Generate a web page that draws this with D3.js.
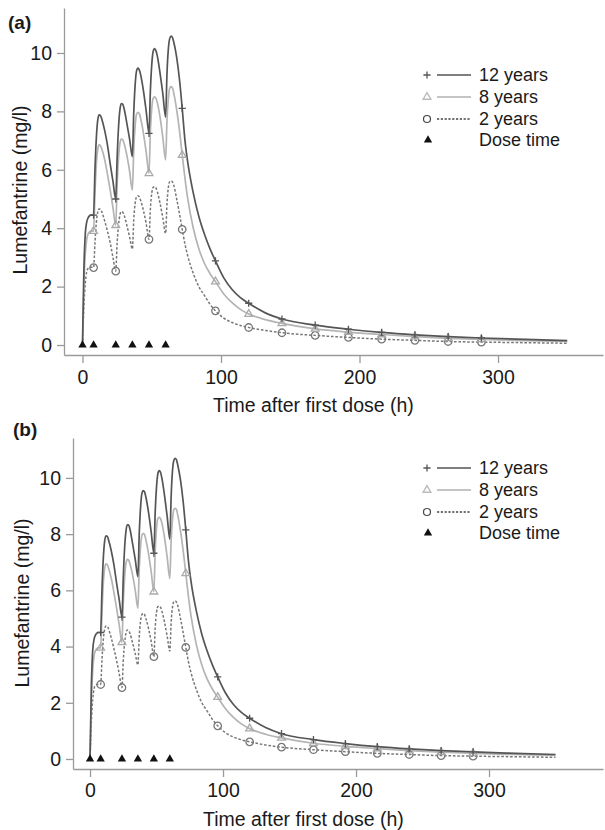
<!DOCTYPE html>
<html><head><meta charset="utf-8">
<script src="https://cdn.jsdelivr.net/npm/d3@7"></script>
<style>body{margin:0;background:#fff} svg{display:block;font-family:"Liberation Sans",Arial,Helvetica,sans-serif}</style>
</head><body><svg id="c" width="605" height="830"></svg>
<script>
// ---------- DATA ----------
const times = [0,1,2,3,4,5,6,7,8,9,10,11,12,13,14,16,18,20,22,24,25,26,27,28,29,30,32,34,36,37,38,39,40,41,42,44,46,48,49,50,51,52,53,54,56,58,60,61,62,63,64,65,66,68,70,72,74,76,80,84,88,92,96,102,108,114,120,132,144,168,192,216,240,264,288,320,350];

// Panel (a)
const a12 = [0,2.6,3.8,4.2,4.35,4.42,4.45,4.45,4.45,6.0,7.1,7.7,7.88,7.85,7.72, 7.35,6.85,6.2,5.6,5.0, 6.4,7.45,8.05,8.27,8.25,8.1, 7.6,7.05,6.45, 7.95,8.9,9.38,9.48,9.42,9.25, 8.7,8.0,7.25, 8.7,9.6,10.05,10.15,10.08,9.9, 9.3,8.6,7.8, 9.3,10.15,10.5,10.58,10.52,10.35, 9.85,9.1,8.1, 7.0,6.25,5.2,4.4,3.8,3.3,2.88, 2.3,1.9,1.62,1.43, 1.1,0.89, 0.68,0.54,0.43,0.35,0.29,0.24, 0.19,0.15];
const a8  = [0,2.0,3.1,3.6,3.8,3.87,3.9,3.9,3.9,5.2,6.2,6.7,6.85,6.82,6.7, 6.35,5.85,5.3,4.7,4.1, 5.5,6.4,6.9,7.05,7.03,6.9, 6.5,5.95,5.3, 6.7,7.5,7.9,7.97,7.92,7.75, 7.25,6.6,5.88, 7.3,8.1,8.45,8.5,8.45,8.3, 7.8,7.1,6.34, 7.7,8.45,8.8,8.85,8.8,8.6, 8.05,7.35,6.5, 5.7,5.0,4.0,3.3,2.8,2.45,2.17, 1.75,1.45,1.22,1.06, 0.87,0.74, 0.55,0.44,0.36,0.29,0.23,0.19, 0.15,0.12];
const a2  = [0,1.3,2.1,2.5,2.62,2.65,2.66,2.66,2.65,3.5,4.2,4.55,4.66,4.65,4.55, 4.25,3.9,3.5,3.0,2.53, 3.5,4.1,4.45,4.57,4.55,4.45, 4.1,3.7,3.29, 4.3,4.85,5.07,5.11,5.07,4.95, 4.6,4.15,3.62, 4.65,5.2,5.4,5.42,5.38,5.25, 4.85,4.35,3.82, 4.85,5.4,5.6,5.62,5.58,5.45, 5.0,4.5,3.96, 3.45,3.05,2.45,2.0,1.7,1.4,1.17, 0.92,0.77,0.67,0.6, 0.5,0.42, 0.33,0.26,0.2,0.16,0.12,0.1, 0.08,0.06];

// Panel (b)
const b12 = [0,2.6,3.85,4.25,4.4,4.47,4.5,4.5,4.5,6.05,7.15,7.75,7.94,7.92,7.78, 7.4,6.9,6.25,5.65,5.05, 6.45,7.5,8.1,8.33,8.33,8.18, 7.66,7.1,6.49, 8.0,8.95,9.45,9.55,9.5,9.32, 8.77,8.07,7.32, 8.78,9.68,10.15,10.26,10.2,10.0, 9.38,8.63,7.82, 9.35,10.25,10.62,10.7,10.64,10.45, 9.93,9.17,8.15, 7.05,6.3,5.25,4.45,3.85,3.35,2.92, 2.34,1.93,1.65,1.45, 1.12,0.9, 0.69,0.55,0.44,0.36,0.3,0.25, 0.2,0.16];
const b8  = [0,2.0,3.15,3.65,3.85,3.92,3.95,3.95,3.95,5.25,6.27,6.78,6.94,6.91,6.78, 6.42,5.92,5.36,4.75,4.15, 5.55,6.45,6.95,7.1,7.08,6.95, 6.55,6.0,5.36, 6.76,7.56,7.96,8.03,7.98,7.8, 7.3,6.66,5.95, 7.38,8.2,8.55,8.6,8.55,8.4, 7.88,7.18,6.42, 7.78,8.52,8.87,8.92,8.87,8.67, 8.12,7.43,6.6, 5.78,5.07,4.06,3.35,2.85,2.49,2.2, 1.78,1.47,1.24,1.08, 0.88,0.75, 0.56,0.45,0.37,0.3,0.24,0.2, 0.16,0.13];
const b2  = [0,1.3,2.1,2.5,2.62,2.65,2.66,2.66,2.65,3.55,4.25,4.62,4.73,4.72,4.62, 4.3,3.92,3.5,3.02,2.54, 3.5,4.12,4.47,4.59,4.57,4.47, 4.13,3.75,3.35, 4.35,4.9,5.14,5.18,5.14,5.0, 4.64,4.18,3.64, 4.67,5.22,5.42,5.44,5.4,5.27, 4.87,4.37,3.84, 4.86,5.4,5.6,5.62,5.58,5.45, 5.0,4.5,3.97, 3.46,3.06,2.46,2.01,1.71,1.41,1.18, 0.93,0.78,0.68,0.61, 0.5,0.42, 0.33,0.26,0.2,0.16,0.12,0.1, 0.08,0.06];

const markerTimes = [8,24,48,72,96,120,144,168,192,216,240,264,288];
const doseTimes = [0,8,24,36,48,60];
const xTicks = [0,100,200,300];
const yTicks = [0,2,4,6,8,10];
const legendLabels = ["12 years","8 years","2 years","Dose time"];
const panelLabels = ["(a)","(b)"];
const xTitle = "Time after first dose (h)";
const yTitle = "Lumefantrine (mg/l)";

// ---------- DRAWING ----------
const svg = d3.select("#c");
const C12 = "#555", C8 = "#b4b4b4", C2 = "#777", AX = "#9a9a9a", TXT = "#1a1a1a";

const panels = [
  {label:panelLabels[0], lx:8, ly:29, xr:[64,603], xd:[-13.36,375.8], yr:[355,8], yd:[-0.342,11.54],
   ytx:27, yty:190, xtx:213, xty:412, legX:427, legY:[75,97,119,140], xpad:7, s:[a12,a8,a2]},
  {label:panelLabels[1], lx:13, ly:436, xr:[73,603], xd:[-12.8,385.7], yr:[769,438], yd:[-0.356,11.42],
   ytx:29, yty:603, xtx:203, xty:826, legX:427, legY:[468,490,512,533], xpad:6, s:[b12,b8,b2]}
];

const plusPath = "M-3.6,0H3.6M0,-3.6V3.6";
const triOpen = d3.symbol(d3.symbolTriangle, 26)();
const triDose = d3.symbol(d3.symbolTriangle, 30)();

panels.forEach(p => {
  const g = svg.append("g");
  const x = d3.scaleLinear().domain(p.xd).range(p.xr);
  const y = d3.scaleLinear().domain(p.yd).range(p.yr);

  // axes
  const xa = g.append("g").attr("transform", `translate(0,${p.yr[0]})`)
    .call(d3.axisBottom(x).tickValues(xTicks).tickSize(8).tickSizeOuter(0).tickPadding(p.xpad).tickFormat(d3.format("d")));
  const ya = g.append("g").attr("transform", `translate(${p.xr[0]},0)`)
    .call(d3.axisLeft(y).tickValues(yTicks).tickSize(7).tickSizeOuter(0).tickPadding(5).tickFormat(d3.format("d")));
  [xa, ya].forEach(ax => {
    ax.select(".domain").attr("stroke", AX).attr("stroke-width", 1.3);
    ax.selectAll(".tick line").attr("stroke", AX).attr("stroke-width", 1.3);
    ax.selectAll(".tick text").attr("fill", TXT).attr("font-size", 19.5).attr("font-family", "Liberation Sans, Arial, sans-serif");
  });

  // titles
  g.append("text").attr("x", p.xtx).attr("y", p.xty).attr("font-size", 19.5).attr("fill", TXT).text(xTitle);
  g.append("text").attr("transform", `translate(${p.ytx},${p.yty}) rotate(-90)`).attr("text-anchor", "middle")
    .attr("font-size", 19.5).attr("fill", TXT).text(yTitle);
  g.append("text").attr("x", p.lx).attr("y", p.ly).attr("font-size", 19).attr("font-weight", "bold").attr("fill", TXT).text(p.label);

  const line = d3.line().x((d,i) => x(times[i])).y(d => y(d)).curve(d3.curveMonotoneX);
  const styles = [
    {c:C12, w:1.7, dash:null},
    {c:C8, w:1.7, dash:null},
    {c:C2, w:1.5, dash:"2.6,1.8"}
  ];
  // draw 2y, 8y, 12y order
  [2,1,0].forEach(k => {
    g.append("path").datum(p.s[k]).attr("d", line).attr("fill", "none")
      .attr("stroke", styles[k].c).attr("stroke-width", styles[k].w)
      .attr("stroke-dasharray", styles[k].dash);
  });

  // markers
  const idx = markerTimes.map(t => times.indexOf(t));
  g.append("g").selectAll("path").data(idx).join("path")
    .attr("transform", i => `translate(${x(times[i])},${y(p.s[2][i])})`)
    .attr("d", d3.symbol(d3.symbolCircle, 44)()).attr("fill", "none").attr("stroke", C2).attr("stroke-width", 1.3);
  g.append("g").selectAll("path").data(idx).join("path")
    .attr("transform", i => `translate(${x(times[i])},${y(p.s[1][i])})`)
    .attr("d", triOpen).attr("fill", "none").attr("stroke", "#aaa").attr("stroke-width", 1.3);
  g.append("g").selectAll("path").data(idx).join("path")
    .attr("transform", i => `translate(${x(times[i])},${y(p.s[0][i])})`)
    .attr("d", plusPath).attr("fill", "none").attr("stroke", C12).attr("stroke-width", 1.3);

  // dose times
  g.append("g").selectAll("path").data(doseTimes).join("path")
    .attr("transform", t => `translate(${x(t)},${y(0)})`)
    .attr("d", triDose).attr("fill", "#111");

  // legend
  const L = g.append("g");
  const lx = p.legX, ly = p.legY;
  L.append("path").attr("transform", `translate(${lx},${ly[0]})`).attr("d", plusPath).attr("stroke", C12).attr("stroke-width", 1.3);
  L.append("line").attr("x1", lx+10).attr("x2", lx+44).attr("y1", ly[0]).attr("y2", ly[0]).attr("stroke", C12).attr("stroke-width", 1.5);
  L.append("path").attr("transform", `translate(${lx},${ly[1]})`).attr("d", triOpen).attr("fill", "none").attr("stroke", "#bbb").attr("stroke-width", 1.4);
  L.append("line").attr("x1", lx+10).attr("x2", lx+44).attr("y1", ly[1]).attr("y2", ly[1]).attr("stroke", "#c4c4c4").attr("stroke-width", 2);
  L.append("circle").attr("cx", lx).attr("cy", ly[2]).attr("r", 3.5).attr("fill", "none").attr("stroke", "#444").attr("stroke-width", 1.2);
  L.append("line").attr("x1", lx+10).attr("x2", lx+44).attr("y1", ly[2]).attr("y2", ly[2]).attr("stroke", "#444").attr("stroke-width", 1.3).attr("stroke-dasharray", "2.2,1.6");
  L.append("path").attr("transform", `translate(${lx+1},${ly[3]})`).attr("d", triDose).attr("fill", "#111");
  legendLabels.forEach((t, i) => {
    L.append("text").attr("x", lx+52).attr("y", ly[i]).attr("dy", "0.36em").attr("font-size", 18).attr("fill", TXT).text(t);
  });
});
</script>
</body></html>
